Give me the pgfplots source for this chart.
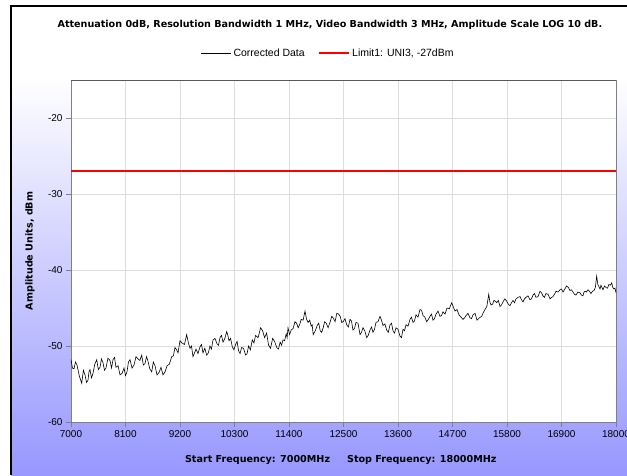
\documentclass[border=0pt]{standalone}
\usepackage{fontspec}
\setmainfont{Liberation Sans}
\newfontfamily\dejavu{DejaVu Sans}
\usepackage{pgfplots}
\pgfplotsset{compat=1.18}
\definecolor{bgblue}{RGB}{151,151,255}
\definecolor{gridgray}{RGB}{222,222,222}
\definecolor{axgray}{RGB}{128,128,128}

\begin{document}
\begin{tikzpicture}[x=1pt,y=1pt]
  \useasboundingbox (0,0) rectangle (627,475);
  % window background
  \fill[white] (0,0) rectangle (627,475);
  \shade[top color=white, bottom color=bgblue] (11,0) rectangle (627,398);
  \draw[black, line width=2pt] (11,0) -- (11,469) -- (627,469);

  \begin{axis}[
    at={(71pt,53pt)}, anchor=south west,
    scale only axis,
    width=545pt, height=342pt,
    xmin=7000, xmax=18000,
    ymin=-60, ymax=-15,
    xtick={7000,8100,...,18000},
    ytick={-60,-50,...,-20},
    scaled x ticks=false,
    xtick pos=bottom, ytick pos=left,
    tick align=outside,
    major tick length=5pt,
    tick style={axgray, thin},
    axis background/.style={fill=white},
    axis line style={axgray, thin},
    grid=major,
    major grid style={gridgray, line width=0.9pt},
    ticklabel style={font=\fontsize{10}{12}\selectfont},
    /pgf/number format/assume math mode=true,
    /pgf/number format/set thousands separator={},
    title={\dejavu\bfseries Attenuation 0dB, Resolution Bandwidth 1 MHz, Video Bandwidth 3 MHz, Amplitude Scale LOG 10 dB.},
    every axis title/.style={at={(axis description cs:0.475,1.161)}, anchor=center, font=\fontsize{9.6}{11}\selectfont},
    xlabel={\dejavu\bfseries Start Frequency: 7000MHz\hspace{17pt}Stop Frequency: 18000MHz},
    every axis x label/.style={at={(axis description cs:0.495,-0.111)}, anchor=center, font=\fontsize{9.6}{11}\selectfont},
    ylabel={\dejavu\bfseries Amplitude Units, dBm},
    every axis y label/.style={at={(axis description cs:-0.0752,0.5)}, anchor=center, rotate=90, font=\fontsize{9.6}{11}\selectfont},
    legend columns=2,
    legend style={at={(0.472,1)}, anchor=center, yshift=27pt, draw=none, fill=none,
      font=\fontsize{10.5}{12}\selectfont,
      /tikz/every even column/.append style={column sep=12pt}},
    legend image code/.code={\draw[#1] (0pt,0pt) -- (30pt,0pt);},
  ]
  \addplot[black, line width=0.6pt] coordinates {
    (7000,-51.8) (7030,-52.9) (7060,-53.0) (7090,-52.1) (7121,-52.5) (7170,-54.0)
    (7216,-54.9) (7250,-53.2) (7283,-53.8) (7313,-54.8) (7343,-54.5) (7363,-53.4)
    (7383,-53.1) (7414,-54.2) (7444,-53.6) (7480,-52.4) (7519,-51.8) (7552,-53.1)
    (7585,-52.8) (7615,-51.7) (7646,-52.2) (7676,-53.2) (7706,-52.9) (7746,-51.6)
    (7787,-51.9) (7818,-52.9) (7848,-51.8) (7878,-51.5) (7908,-52.8) (7950,-52.6)
    (7989,-53.8) (8030,-53.6) (8070,-52.9) (8100,-53.9) (8130,-53.4) (8160,-52.1)
    (8191,-51.8) (8232,-52.9) (8272,-52.5) (8312,-51.4) (8352,-51.7) (8390,-51.9)
    (8427,-51.2) (8460,-52.5) (8494,-52.3) (8524,-51.4) (8554,-52.0) (8590,-53.0)
    (8629,-53.4) (8662,-52.1) (8696,-52.6) (8736,-53.8) (8776,-53.5) (8816,-52.8)
    (8857,-53.8) (8898,-53.4) (8938,-52.6) (8985,-52.4) (9032,-51.4) (9066,-51.3)
    (9099,-50.2) (9130,-50.5) (9160,-50.9) (9200,-49.3) (9240,-49.6) (9290,-49.8)
    (9335,-48.5) (9370,-49.6) (9402,-50.3) (9432,-50.0) (9462,-51.4) (9493,-50.9)
    (9523,-50.4) (9563,-51.0) (9604,-50.1) (9634,-49.8) (9664,-50.9) (9700,-50.3)
    (9739,-51.2) (9772,-50.9) (9805,-50.0) (9835,-50.4) (9866,-49.2) (9906,-49.0)
    (9947,-49.7) (9977,-49.9) (10007,-48.9) (10037,-48.6) (10068,-49.5) (10105,-49.0)
    (10143,-48.1) (10166,-48.6) (10189,-49.3) (10222,-49.0) (10255,-50.1) (10288,-50.5)
    (10322,-49.8) (10352,-49.4) (10382,-50.6) (10412,-51.0) (10443,-50.2) (10483,-50.3)
    (10524,-51.2) (10554,-51.0) (10584,-50.0) (10620,-50.5) (10659,-49.2) (10692,-49.6)
    (10726,-48.6) (10776,-48.9) (10827,-47.6) (10867,-48.0) (10907,-48.9) (10948,-48.3)
    (10988,-49.9) (11028,-50.3) (11069,-49.0) (11110,-49.4) (11152,-50.2) (11187,-50.4)
    (11222,-49.5) (11250,-49.9) (11279,-49.2) (11311,-49.3) (11343,-48.4) (11362,-48.9)
    (11380,-47.6) (11412,-48.5) (11444,-47.9) (11482,-47.7) (11521,-46.8) (11553,-47.0)
    (11585,-47.6) (11615,-47.2) (11646,-46.5) (11685,-46.6) (11723,-45.4) (11755,-46.5)
    (11787,-46.9) (11818,-46.6) (11848,-47.4) (11868,-47.2) (11888,-48.5) (11930,-48.0)
    (11969,-47.3) (12000,-47.0) (12030,-48.0) (12060,-48.2) (12090,-47.6) (12120,-46.8)
    (12151,-47.0) (12190,-47.6) (12232,-46.8) (12262,-46.1) (12292,-46.3) (12330,-46.8)
    (12365,-45.7) (12400,-45.8) (12433,-46.1) (12465,-46.9) (12494,-46.8) (12530,-46.4)
    (12564,-47.2) (12598,-47.5) (12631,-46.5) (12661,-46.7) (12691,-47.9) (12722,-47.7)
    (12752,-46.9) (12793,-47.0) (12833,-48.5) (12863,-48.2) (12893,-47.6) (12930,-48.0)
    (12968,-48.9) (13000,-48.6) (13035,-47.9) (13065,-47.5) (13095,-48.2) (13125,-47.8)
    (13156,-46.9) (13196,-46.8) (13237,-46.1) (13267,-46.6) (13297,-47.3) (13335,-47.1)
    (13372,-47.9) (13405,-48.2) (13439,-47.2) (13469,-47.0) (13499,-48.0) (13530,-48.3)
    (13560,-47.6) (13600,-47.8) (13640,-48.7) (13670,-48.9) (13701,-47.8) (13731,-48.0)
    (13762,-47.2) (13802,-47.4) (13842,-46.5) (13872,-46.2) (13903,-46.9) (13933,-46.7)
    (13963,-45.9) (14004,-46.2) (14044,-45.2) (14075,-45.3) (14105,-46.0) (14142,-46.2)
    (14179,-46.8) (14212,-46.5) (14246,-46.1) (14276,-45.8) (14307,-46.6) (14337,-46.4)
    (14367,-45.8) (14408,-45.4) (14448,-46.1) (14478,-46.0) (14508,-45.5) (14549,-45.8)
    (14589,-45.0) (14636,-45.1) (14684,-44.3) (14718,-44.9) (14751,-45.4) (14791,-45.2)
    (14831,-45.9) (14872,-46.2) (14912,-46.5) (14943,-46.3) (14973,-46.0) (15013,-45.7)
    (15053,-46.3) (15083,-46.4) (15114,-45.9) (15155,-45.7) (15195,-46.6) (15242,-46.3)
    (15289,-46.1) (15322,-45.6) (15356,-45.2) (15393,-44.8) (15431,-43.2) (15454,-44.2)
    (15477,-44.6) (15508,-44.5) (15538,-44.0) (15565,-44.1) (15592,-44.3) (15625,-44.0)
    (15659,-44.8) (15689,-44.6) (15719,-44.2) (15756,-43.8) (15794,-44.1) (15827,-44.5)
    (15861,-44.7) (15891,-44.3) (15921,-44.0) (15951,-44.3) (15982,-43.8) (16022,-43.6)
    (16062,-43.5) (16092,-43.9) (16123,-44.2) (16153,-43.8) (16183,-43.6) (16224,-43.4)
    (16264,-43.9) (16295,-43.8) (16325,-43.3) (16355,-43.1) (16385,-43.6) (16426,-43.5)
    (16466,-42.8) (16496,-43.0) (16526,-43.4) (16556,-43.6) (16587,-43.1) (16628,-43.2)
    (16668,-43.8) (16698,-43.6) (16728,-43.5) (16758,-43.2) (16789,-42.8) (16830,-42.9)
    (16870,-42.6) (16900,-42.5) (16930,-42.9) (16967,-42.5) (17004,-42.1) (17038,-42.3)
    (17071,-42.7) (17101,-42.6) (17132,-42.9) (17162,-43.2) (17192,-43.3) (17232,-42.9)
    (17273,-43.0) (17303,-43.3) (17333,-43.4) (17354,-42.9) (17374,-42.8) (17404,-42.9)
    (17434,-42.6) (17465,-42.8) (17495,-43.1) (17525,-42.8) (17555,-42.7) (17583,-42.3)
    (17610,-40.8) (17633,-41.9) (17656,-42.2) (17677,-42.5) (17697,-42.0) (17717,-42.3)
    (17737,-42.6) (17768,-42.1) (17798,-42.3) (17828,-42.4) (17858,-41.9) (17886,-42.0)
    (17913,-41.7) (17936,-42.3) (17959,-42.5) (17980,-42.4) (18000,-43.0)
  };
  \addlegendentry{Corrected Data}
  \addplot[red, line width=1.5pt] coordinates {(7000,-27) (18000,-27)};
  \addlegendentry{Limit1: UNI3, -27dBm}
  \draw[black!65, line width=1.5pt] (rel axis cs:0,1) -- (rel axis cs:1,1);
  \end{axis}
\end{tikzpicture}
\end{document}
